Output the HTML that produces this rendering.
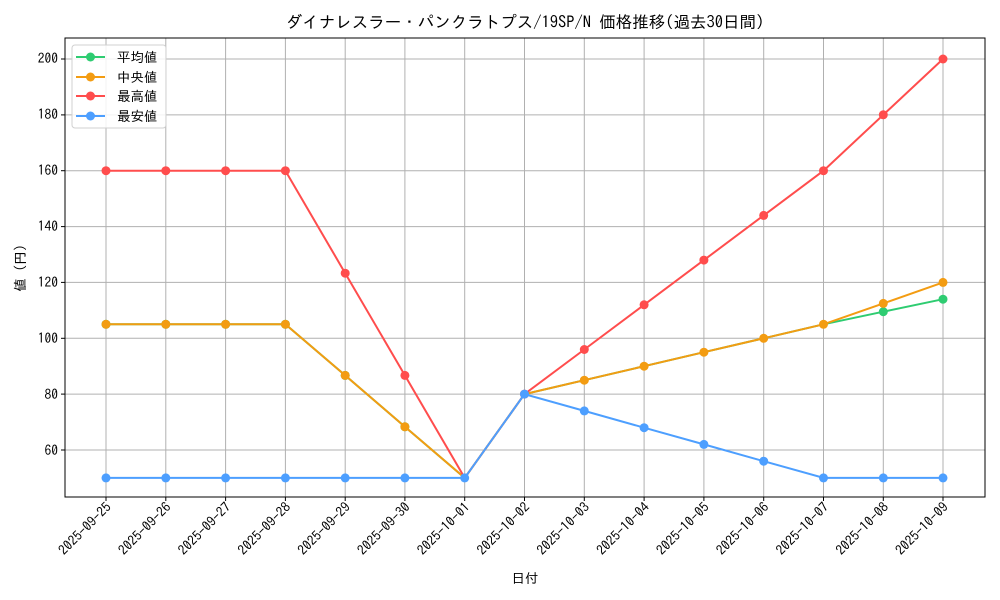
<!DOCTYPE html>
<html><head><meta charset="utf-8"><style>body{margin:0;background:#fff}svg{display:block}text{font-family:"IPAGothic","Noto Sans CJK JP",monospace;font-size:13.5px;fill:#000}</style></head><body>
<svg width="1000" height="600" xmlns="http://www.w3.org/2000/svg">
<rect width="1000" height="600" fill="#fff"/>
<g stroke="#b0b0b0" stroke-width="1">
<line x1="106" y1="38" x2="106" y2="497"/><line x1="165.8" y1="38" x2="165.8" y2="497"/><line x1="225.6" y1="38" x2="225.6" y2="497"/><line x1="285.4" y1="38" x2="285.4" y2="497"/><line x1="345.2" y1="38" x2="345.2" y2="497"/><line x1="404.9" y1="38" x2="404.9" y2="497"/><line x1="464.7" y1="38" x2="464.7" y2="497"/><line x1="524.5" y1="38" x2="524.5" y2="497"/><line x1="584.3" y1="38" x2="584.3" y2="497"/><line x1="644.1" y1="38" x2="644.1" y2="497"/><line x1="703.9" y1="38" x2="703.9" y2="497"/><line x1="763.7" y1="38" x2="763.7" y2="497"/><line x1="823.5" y1="38" x2="823.5" y2="497"/><line x1="883.3" y1="38" x2="883.3" y2="497"/><line x1="943" y1="38" x2="943" y2="497"/>
<line x1="65" y1="450" x2="985" y2="450"/><line x1="65" y1="394.1" x2="985" y2="394.1"/><line x1="65" y1="338.3" x2="985" y2="338.3"/><line x1="65" y1="282.4" x2="985" y2="282.4"/><line x1="65" y1="226.6" x2="985" y2="226.6"/><line x1="65" y1="170.7" x2="985" y2="170.7"/><line x1="65" y1="114.9" x2="985" y2="114.9"/><line x1="65" y1="59" x2="985" y2="59"/>
</g>
<g stroke="#000" stroke-width="1">
<line x1="61" y1="450" x2="65" y2="450"/><line x1="61" y1="394.1" x2="65" y2="394.1"/><line x1="61" y1="338.3" x2="65" y2="338.3"/><line x1="61" y1="282.4" x2="65" y2="282.4"/><line x1="61" y1="226.6" x2="65" y2="226.6"/><line x1="61" y1="170.7" x2="65" y2="170.7"/><line x1="61" y1="114.9" x2="65" y2="114.9"/><line x1="61" y1="59" x2="65" y2="59"/>
</g>
<g text-anchor="end">
<text x="58" y="455">60</text><text x="58" y="399">80</text><text x="58" y="343">100</text><text x="58" y="287">120</text><text x="58" y="231">140</text><text x="58" y="175">160</text><text x="58" y="119">180</text><text x="58" y="63">200</text>
</g>
<g text-anchor="end">
<text transform="translate(112,508) rotate(-45)">2025-09-25</text>
<text transform="translate(171.8,508) rotate(-45)">2025-09-26</text>
<text transform="translate(231.6,508) rotate(-45)">2025-09-27</text>
<text transform="translate(291.4,508) rotate(-45)">2025-09-28</text>
<text transform="translate(351.2,508) rotate(-45)">2025-09-29</text>
<text transform="translate(410.9,508) rotate(-45)">2025-09-30</text>
<text transform="translate(470.7,508) rotate(-45)">2025-10-01</text>
<text transform="translate(530.5,508) rotate(-45)">2025-10-02</text>
<text transform="translate(590.3,508) rotate(-45)">2025-10-03</text>
<text transform="translate(650.1,508) rotate(-45)">2025-10-04</text>
<text transform="translate(709.9,508) rotate(-45)">2025-10-05</text>
<text transform="translate(769.7,508) rotate(-45)">2025-10-06</text>
<text transform="translate(829.5,508) rotate(-45)">2025-10-07</text>
<text transform="translate(889.3,508) rotate(-45)">2025-10-08</text>
<text transform="translate(949,508) rotate(-45)">2025-10-09</text>
</g>
<g stroke="#000"><line x1="106" y1="497" x2="106" y2="501"/><line x1="165.8" y1="497" x2="165.8" y2="501"/><line x1="225.6" y1="497" x2="225.6" y2="501"/><line x1="285.4" y1="497" x2="285.4" y2="501"/><line x1="345.2" y1="497" x2="345.2" y2="501"/><line x1="404.9" y1="497" x2="404.9" y2="501"/><line x1="464.7" y1="497" x2="464.7" y2="501"/><line x1="524.5" y1="497" x2="524.5" y2="501"/><line x1="584.3" y1="497" x2="584.3" y2="501"/><line x1="644.1" y1="497" x2="644.1" y2="501"/><line x1="703.9" y1="497" x2="703.9" y2="501"/><line x1="763.7" y1="497" x2="763.7" y2="501"/><line x1="823.5" y1="497" x2="823.5" y2="501"/><line x1="883.3" y1="497" x2="883.3" y2="501"/><line x1="943" y1="497" x2="943" y2="501"/></g>
<text x="525" y="583" text-anchor="middle">日付</text>
<text transform="translate(25,268) rotate(-90)" text-anchor="middle">値 (円)</text>
<text x="525" y="28" text-anchor="middle" style="font-size:16.5px">ダイナレスラー・パンクラトプス/19SP/N 価格推移(過去30日間)</text>
<polyline fill="none" stroke="#2ecc71" stroke-width="2" points="106,324.3 165.8,324.3 225.6,324.3 285.4,324.3 345.2,375.4 404.9,426.8 464.7,477.9 524.5,394.1 584.3,380.2 644.1,366.2 703.9,352.2 763.7,338.3 823.5,324.3 883.3,311.7 943,299.2"/>
<g fill="#2ecc71"><circle cx="106" cy="324.3" r="4.5"/><circle cx="165.8" cy="324.3" r="4.5"/><circle cx="225.6" cy="324.3" r="4.5"/><circle cx="285.4" cy="324.3" r="4.5"/><circle cx="345.2" cy="375.4" r="4.5"/><circle cx="404.9" cy="426.8" r="4.5"/><circle cx="883.3" cy="311.7" r="4.5"/><circle cx="943" cy="299.2" r="4.5"/></g>
<polyline fill="none" stroke="#f39c12" stroke-width="2" points="106,324.3 165.8,324.3 225.6,324.3 285.4,324.3 345.2,375.4 404.9,426.8 464.7,477.9 524.5,394.1 584.3,380.2 644.1,366.2 703.9,352.2 763.7,338.3 823.5,324.3 883.3,303.4 943,282.4"/>
<g fill="#f39c12"><circle cx="106" cy="324.3" r="4.5"/><circle cx="165.8" cy="324.3" r="4.5"/><circle cx="225.6" cy="324.3" r="4.5"/><circle cx="285.4" cy="324.3" r="4.5"/><circle cx="345.2" cy="375.4" r="4.5"/><circle cx="404.9" cy="426.8" r="4.5"/><circle cx="584.3" cy="380.2" r="4.5"/><circle cx="644.1" cy="366.2" r="4.5"/><circle cx="703.9" cy="352.2" r="4.5"/><circle cx="763.7" cy="338.3" r="4.5"/><circle cx="823.5" cy="324.3" r="4.5"/><circle cx="883.3" cy="303.4" r="4.5"/><circle cx="943" cy="282.4" r="4.5"/></g>
<polyline fill="none" stroke="#ff4d4d" stroke-width="2" points="106,170.7 165.8,170.7 225.6,170.7 285.4,170.7 345.2,273.2 404.9,375.4 464.7,477.9 524.5,394.1 584.3,349.5 644.1,304.8 703.9,260.1 763.7,215.4 823.5,170.7 883.3,114.8 943,59"/>
<g fill="#ff4d4d"><circle cx="106" cy="170.7" r="4.5"/><circle cx="165.8" cy="170.7" r="4.5"/><circle cx="225.6" cy="170.7" r="4.5"/><circle cx="285.4" cy="170.7" r="4.5"/><circle cx="345.2" cy="273.2" r="4.5"/><circle cx="404.9" cy="375.4" r="4.5"/><circle cx="524.5" cy="394.1" r="4.5"/><circle cx="584.3" cy="349.5" r="4.5"/><circle cx="644.1" cy="304.8" r="4.5"/><circle cx="703.9" cy="260.1" r="4.5"/><circle cx="763.7" cy="215.4" r="4.5"/><circle cx="823.5" cy="170.7" r="4.5"/><circle cx="883.3" cy="114.8" r="4.5"/><circle cx="943" cy="59" r="4.5"/></g>
<polyline fill="none" stroke="#4d9fff" stroke-width="2" points="106,477.9 165.8,477.9 225.6,477.9 285.4,477.9 345.2,477.9 404.9,477.9 464.7,477.9 524.5,394.1 584.3,410.9 644.1,427.7 703.9,444.4 763.7,461.2 823.5,477.9 883.3,477.9 943,477.9"/>
<g fill="#4d9fff"><circle cx="106" cy="477.9" r="4.5"/><circle cx="165.8" cy="477.9" r="4.5"/><circle cx="225.6" cy="477.9" r="4.5"/><circle cx="285.4" cy="477.9" r="4.5"/><circle cx="345.2" cy="477.9" r="4.5"/><circle cx="404.9" cy="477.9" r="4.5"/><circle cx="464.7" cy="477.9" r="4.5"/><circle cx="524.5" cy="394.1" r="4.5"/><circle cx="584.3" cy="410.9" r="4.5"/><circle cx="644.1" cy="427.7" r="4.5"/><circle cx="703.9" cy="444.4" r="4.5"/><circle cx="763.7" cy="461.2" r="4.5"/><circle cx="823.5" cy="477.9" r="4.5"/><circle cx="883.3" cy="477.9" r="4.5"/><circle cx="943" cy="477.9" r="4.5"/></g>
<rect x="65" y="38" width="920" height="459" fill="none" stroke="#000" stroke-width="1"/>
<rect x="72" y="45" width="94" height="83" rx="3" fill="#fff" fill-opacity="0.85" stroke="#d0d0d0"/>
<g stroke-width="2">
<line x1="76" y1="57" x2="105" y2="57" stroke="#2ecc71"/><circle cx="90.5" cy="57" r="4.5" fill="#2ecc71"/>
<line x1="76" y1="77" x2="105" y2="77" stroke="#f39c12"/><circle cx="90.5" cy="77" r="4.5" fill="#f39c12"/>
<line x1="76" y1="96" x2="105" y2="96" stroke="#ff4d4d"/><circle cx="90.5" cy="96" r="4.5" fill="#ff4d4d"/>
<line x1="76" y1="116" x2="105" y2="116" stroke="#4d9fff"/><circle cx="90.5" cy="116" r="4.5" fill="#4d9fff"/>
</g>
<text x="117" y="62">平均値</text><text x="117" y="82">中央値</text><text x="117" y="101">最高値</text><text x="117" y="121">最安値</text>
</svg>
</body></html>
